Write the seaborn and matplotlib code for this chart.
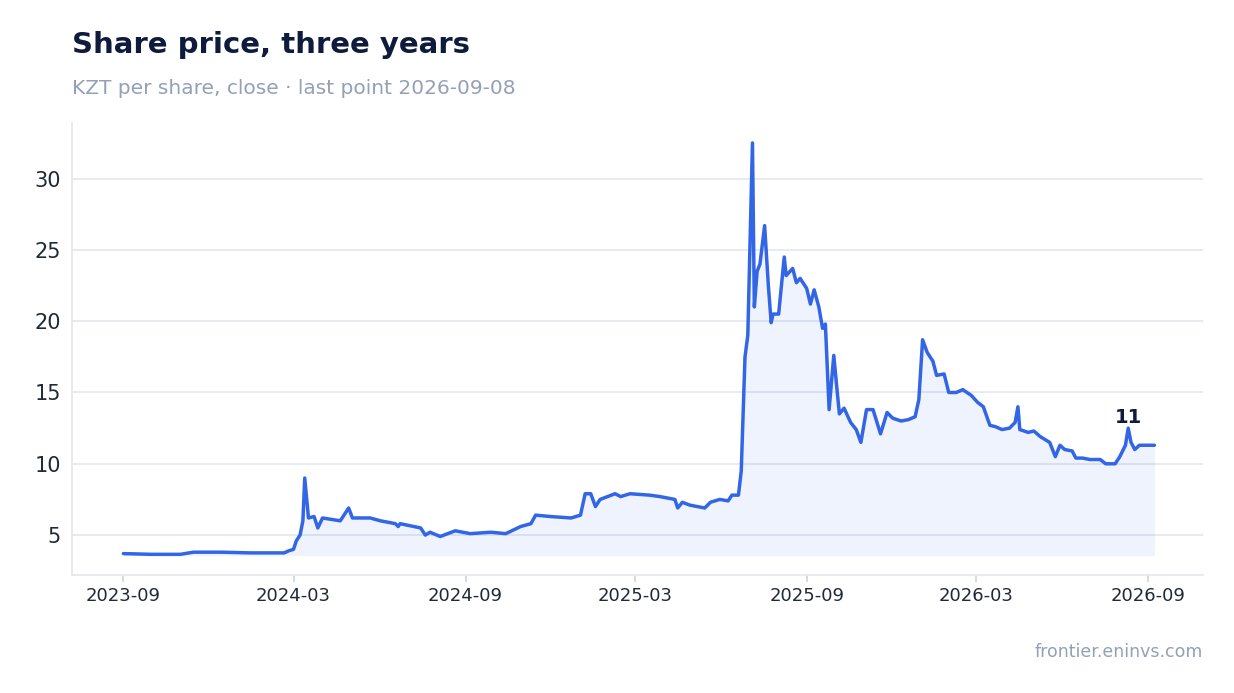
import matplotlib
matplotlib.use("Agg")
import matplotlib.pyplot as plt
import matplotlib.dates as mdates
import seaborn as sns
import pandas as pd

dates = ["2023-09-01","2023-10-01","2023-11-01","2023-11-15","2023-12-15","2024-01-15","2024-02-20","2024-02-25","2024-03-01",
"2024-03-04","2024-03-08","2024-03-11","2024-03-13","2024-03-17","2024-03-23","2024-03-27","2024-04-01","2024-04-20","2024-04-29",
"2024-05-03","2024-05-22","2024-06-02","2024-06-18","2024-06-21","2024-06-23","2024-07-15","2024-07-20","2024-07-25","2024-08-05",
"2024-08-21","2024-09-06","2024-09-28","2024-10-14","2024-10-30","2024-11-10","2024-11-15","2024-12-01","2024-12-23","2025-01-02",
"2025-01-07","2025-01-13","2025-01-18","2025-01-23","2025-02-08","2025-02-14","2025-02-24","2025-03-17","2025-03-28","2025-04-13",
"2025-04-16","2025-04-21","2025-04-29","2025-05-15","2025-05-21","2025-05-31","2025-06-09","2025-06-13","2025-06-20","2025-06-23",
"2025-06-27","2025-06-30","2025-07-05","2025-07-07","2025-07-10","2025-07-13","2025-07-18","2025-07-22","2025-07-25","2025-07-27",
"2025-08-02","2025-08-08","2025-08-10","2025-08-17","2025-08-21","2025-08-25","2025-09-01","2025-09-05","2025-09-09","2025-09-14",
"2025-09-18","2025-09-21","2025-09-25","2025-09-30","2025-10-03","2025-10-06","2025-10-11","2025-10-18","2025-10-24","2025-10-29",
"2025-11-04","2025-11-11","2025-11-19","2025-11-26","2025-12-02","2025-12-11","2025-12-19","2025-12-26","2025-12-30","2026-01-03",
"2026-01-08","2026-01-14","2026-01-18","2026-01-26","2026-01-31","2026-02-08","2026-02-15","2026-02-24","2026-03-03","2026-03-09",
"2026-03-16","2026-03-22","2026-03-29","2026-04-06","2026-04-12","2026-04-15","2026-04-17","2026-04-26","2026-05-02","2026-05-09",
"2026-05-19","2026-05-25","2026-05-30","2026-06-04","2026-06-12","2026-06-16","2026-06-23","2026-07-01","2026-07-12","2026-07-18",
"2026-07-28","2026-08-02","2026-08-08","2026-08-11","2026-08-14","2026-08-18","2026-08-23","2026-09-08"]
prices = [3.7,3.65,3.65,3.8,3.8,3.75,3.75,3.9,4.0,
4.6,5.0,6.0,9.0,6.2,6.3,5.5,6.2,6.0,6.9,
6.2,6.2,6.0,5.8,5.6,5.8,5.5,5.0,5.2,4.9,
5.3,5.1,5.2,5.1,5.6,5.8,6.4,6.3,6.2,6.4,
7.9,7.9,7.0,7.5,7.9,7.7,7.9,7.8,7.7,7.5,
6.9,7.3,7.1,6.9,7.3,7.5,7.4,7.8,7.8,9.5,
17.5,19.0,32.5,21.0,23.5,24.0,26.7,22.5,19.9,20.5,
20.5,24.5,23.2,23.7,22.7,23.0,22.3,21.2,22.2,21.0,
19.5,19.8,13.8,17.6,15.5,13.5,13.9,12.9,12.4,11.5,
13.8,13.8,12.1,13.6,13.2,13.0,13.1,13.3,14.5,18.7,
17.8,17.2,16.2,16.3,15.0,15.0,15.2,14.8,14.3,14.0,
12.7,12.6,12.4,12.5,12.9,14.0,12.4,12.2,12.3,11.9,
11.5,10.5,11.3,11.0,10.9,10.4,10.4,10.3,10.3,10.0,
10.0,10.5,11.3,12.5,11.5,11.0,11.3,11.3]
tick_labels = ["2023-09","2024-03","2024-09","2025-03","2025-09","2026-03","2026-09"]

df = pd.DataFrame({"date": pd.to_datetime(dates), "price": prices})
sns.set_theme(style="white")
plt.rcParams['font.family'] = ['DejaVu Sans']
fig = plt.figure(figsize=(12.34, 6.93), dpi=100)
ax = fig.add_axes([72/1234, 1-575/693, 1131/1234, 452/693])
color = "#3366e6"
ax.fill_between(df["date"], df["price"], df["price"].min() - 0.1, color=color, alpha=0.08, linewidth=0)
sns.lineplot(data=df, x="date", y="price", ax=ax, color=color, linewidth=2.5)
ax.set_xlim(pd.Timestamp("2023-07-08"), pd.Timestamp("2026-10-30"))
ax.set_ylim(2.2, 33.9)
ax.set_yticks([5, 10, 15, 20, 25, 30])
ax.set_xticks(pd.to_datetime([t + "-01" for t in tick_labels]))
ax.set_xticklabels(tick_labels)
ax.tick_params(axis='y', labelsize=15, colors="#1f2937", length=0, pad=8)
ax.tick_params(axis='x', labelsize=13, colors="#1f2937", length=5, color="#d1d5db", bottom=True)
ax.grid(axis='y', color="#e3e6ee", linewidth=1.2)
ax.set_xlabel(""); ax.set_ylabel("")
for s in ["top", "right"]:
    ax.spines[s].set_visible(False)
for s in ["left", "bottom"]:
    ax.spines[s].set_color("#e5e7eb")
ax.text(pd.Timestamp(dates[-1]) - pd.Timedelta(days=28), 12.55, "11", fontsize=14, fontweight="bold",
        color="#0f1b3d", ha="center", va="bottom")
fig.text(72/1234, 1-45/693, "Share price, three years", fontsize=21, fontweight="bold", color="#0f1b3d", va="center")
fig.text(72/1234, 1-88/693, "KZT per share, close · last point 2026-09-08", fontsize=14.5, color="#94a0b8", va="center")
fig.text(1203/1234, 1-652/693, "frontier.eninvs.com", fontsize=12.5, color="#94a0b8", ha="right", va="center")
fig.savefig("out.png", dpi=100)
